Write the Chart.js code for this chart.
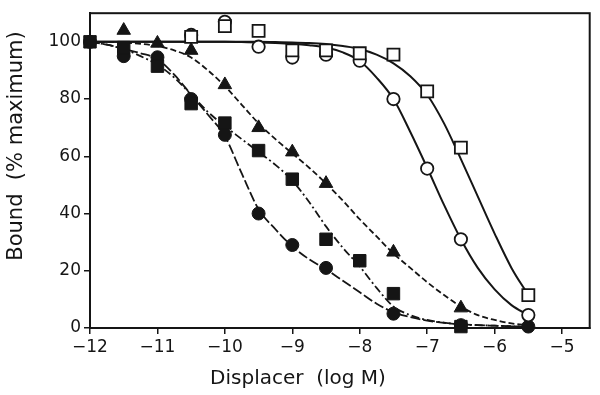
<!DOCTYPE html>
<html>
<head>
<meta charset="utf-8">
<script src="https://cdn.jsdelivr.net/npm/chart.js@4/dist/chart.umd.min.js"></script>
<style>
html,body{margin:0;padding:0;background:#fff;}
canvas{display:block;}
</style>
</head>
<body>
<canvas id="c" width="600" height="395"></canvas>
<script>
// ---- data ----
const xTickValues = [-12, -11, -10, -9, -8, -7, -6, -5];
const xTickLabels = ["\u221212", "\u221211", "\u221210", "\u22129", "\u22128", "\u22127", "\u22126", "\u22125"];
const yTickValues = [0, 20, 40, 60, 80, 100];
const yTickLabels = ["0", "20", "40", "60", "80", "100"];
const xTitle = "Displacer  (log M)";
const yTitle = "Bound  (% maximum)";

// measured points
const filledCircleX = [-12, -11.5, -11, -10.5, -10, -9.5, -9, -8.5, -7.5, -6.5, -5.5];
const filledCircleY = [100, 95, 94.6, 80, 67.5, 40, 29, 21, 5, 1, 0.5];
const filledSquareX = [-12, -11.5, -11, -10.5, -10, -9.5, -9, -8.5, -8, -7.5, -6.5];
const filledSquareY = [100, 98, 91.5, 78.4, 71.6, 62, 52, 31, 23.5, 12, 0.5];
const filledTriangleX = [-11.5, -11, -10.5, -10, -9.5, -9, -8.5, -7.5, -6.5];
const filledTriangleY = [104, 99.5, 97, 85, 70, 61.5, 50.5, 26.5, 7];
const openCircleX = [-10.5, -10, -9.5, -9, -8.5, -8, -7.5, -7, -6.5, -5.5];
const openCircleY = [102.4, 107, 98.3, 94.5, 95.5, 93.4, 80, 55.7, 31, 4.5];
const openSquareX = [-10.5, -10, -9.5, -9, -8.5, -8, -7.5, -7, -6.5, -5.5];
const openSquareY = [101.7, 105.5, 103.8, 97, 97, 96, 95.5, 82.7, 63, 11.5];

// fitted curves
const curveX = [-12, -11.75, -11.5, -11.25, -11, -10.75, -10.5, -10.25, -10, -9.75, -9.5, -9.25, -9, -8.75, -8.5, -8.25, -8, -7.75, -7.5, -7.25, -7, -6.75, -6.5, -6.25, -6, -5.75, -5.5];
const filledCircleCurve = [100, 99, 97.5, 96, 94, 88.5, 81.5, 74.5, 67, 54, 41.5, 34.5, 28.5, 24, 20.5, 16.5, 12.5, 8.5, 5.5, 3.8, 2.6, 1.8, 1.3, 1, 0.8, 0.6, 0.5];
const filledSquareCurve = [100, 99, 97.5, 95, 92, 87.5, 81.5, 75.5, 70.5, 66, 61.5, 57, 51.5, 44, 35.5, 28, 21.5, 14, 7.5, 4.5, 2.8, 1.9, 1.3, 1, 0.8, 0.6, 0.5];
const filledTriangleCurve = [100, 100, 99.7, 99.3, 98.5, 97, 94.5, 90, 84.5, 78, 71.5, 66, 61, 56, 50.5, 44.5, 38, 32, 26, 21, 16, 11.5, 7.5, 4.5, 2.8, 1.6, 1];
const openCircleCurve = [100, 100, 100, 100, 100, 100, 100, 100, 100, 99.9, 99.8, 99.6, 99.3, 98.8, 98, 96.3, 93.3, 87.5, 80, 68.5, 56, 43, 31, 21, 13.5, 8, 4.5];
const openSquareCurve = [100, 100, 100, 100, 100, 100, 100, 100, 100, 100, 100, 99.9, 99.8, 99.6, 99.2, 98.5, 97.5, 95.5, 92.5, 88, 81.5, 71.5, 59, 46, 33, 21, 11.5];

// ---- build ----
const pts = (xs, ys) => xs.map((x, i) => ({x: x, y: ys[i]}));
const INK = '#151515';

function curve(ys, dash, solid) {
  return {
    data: pts(curveX, ys), showLine: true, pointRadius: 0, borderColor: INK,
    borderWidth: solid ? 2 : 1.8, borderDash: dash, cubicInterpolationMode: 'monotone',
    order: 2, clip: false
  };
}
function markers(xs, ys, style, r, filled) {
  return {
    data: pts(xs, ys), showLine: false, pointStyle: style, pointRadius: r,
    backgroundColor: filled ? INK : '#fff', borderColor: INK,
    pointBorderWidth: filled ? 1 : 1.8, order: 1, clip: false
  };
}

const framePlugin = {
  id: 'frame',
  beforeDatasetsDraw(chart) {
    const a = chart.chartArea, ctx = chart.ctx;
    ctx.save();
    ctx.strokeStyle = INK; ctx.lineWidth = 2;
    ctx.strokeRect(a.left, a.top, a.right - a.left, a.bottom - a.top);
    ctx.restore();
  },
  afterDraw(chart) {
    const ctx = chart.ctx;
    ctx.save();
    ctx.fillStyle = INK;
    ctx.textAlign = 'center'; ctx.textBaseline = 'middle';
    ctx.font = '20px "DejaVu Sans"';
    ctx.fillText(xTitle, 298, 379);
    ctx.font = '21px "DejaVu Sans"';
    ctx.translate(17, 146); ctx.rotate(-Math.PI / 2);
    ctx.fillText(yTitle, 0, 0);
    ctx.restore();
  }
};

const tickFont = {family: '"DejaVu Sans"', size: 17};

new Chart(document.getElementById('c'), {
  type: 'scatter',
  data: {
    datasets: [
      curve(filledCircleCurve, [10, 3]),
      curve(filledSquareCurve, [8, 3, 2, 3]),
      curve(filledTriangleCurve, [6, 3]),
      curve(openCircleCurve, [], true),
      curve(openSquareCurve, [], true),
      markers(openSquareX, openSquareY, 'rect', 8.5, false),
      markers(openCircleX, openCircleY, 'circle', 6.2, false),
      markers(filledTriangleX, filledTriangleY, 'triangle', 7.8, true),
      markers(filledSquareX, filledSquareY, 'rect', 8.8, true),
      markers(filledCircleX, filledCircleY, 'circle', 6.5, true)
    ]
  },
  options: {
    responsive: false,
    animation: false,
    events: [],
    layout: {padding: {top: 10, right: 7, left: 0, bottom: 0}},
    plugins: {legend: {display: false}, tooltip: {enabled: false}},
    scales: {
      x: {
        type: 'linear', min: -12, max: -4.59,
        afterBuildTicks: s => { s.ticks = xTickValues.map(v => ({value: v})); },
        afterFit: s => { s.height = 67; },
        grid: {display: true, drawOnChartArea: false, drawTicks: true, tickLength: 6, color: INK, lineWidth: 1.5},
        border: {display: true, color: INK, width: 2},
        ticks: {font: tickFont, color: INK, padding: 3, maxRotation: 0, autoSkip: false,
          callback: (v, i) => xTickLabels[i]}
      },
      y: {
        type: 'linear', min: 0, max: 110,
        afterBuildTicks: s => { s.ticks = yTickValues.map(v => ({value: v})); },
        afterFit: s => { s.width = 90; },
        grid: {display: true, drawOnChartArea: false, drawTicks: true, tickLength: 6, color: INK, lineWidth: 1.5},
        border: {display: true, color: INK, width: 2},
        ticks: {font: tickFont, color: INK, padding: 3, autoSkip: false,
          callback: (v, i) => yTickLabels[i]}
      }
    }
  },
  plugins: [framePlugin]
});
</script>
</body>
</html>
